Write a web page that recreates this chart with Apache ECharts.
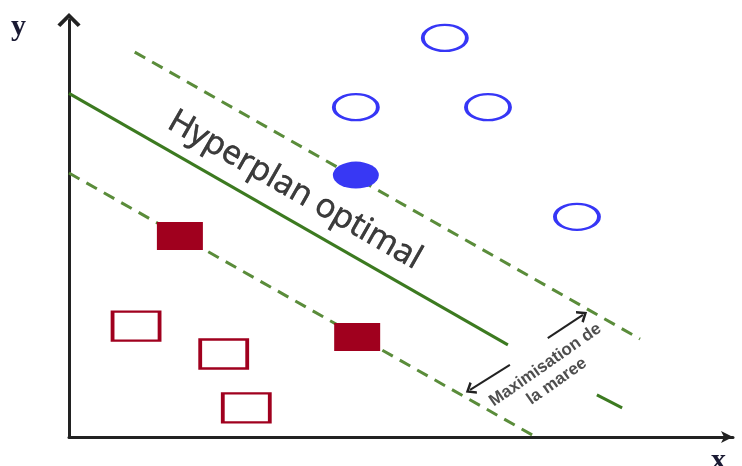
<!DOCTYPE html>
<html>
<head>
<meta charset="utf-8">
<script src="https://cdn.jsdelivr.net/npm/echarts@6/dist/echarts.min.js"></script>
<style>
html,body{margin:0;padding:0;background:#fff;}
#chart{width:742px;height:466px;}
</style>
</head>
<body>
<div id="chart"></div>
<script>
// ---- data (abstract units, x: 0..100, y: 0..100) ----
const blueOpen = [[56.6, 95.7], [43.2, 79.1], [63.1, 79.1], [76.5, 52.8]];
const blueSupport = [[43.2, 62.8]];
const redSupport = [[16.7, 48.2], [43.4, 24.0]];
const redOpen = [[10.1, 26.6], [23.3, 19.9], [26.7, 7.0]];
const hyperplane = [[0, 82.4], [66.1, 22.1]];
const marginUpper = [[9.9, 92.3], [86.0, 23.5]];
const marginLower = [[0, 63.3], [70.3, 0]];
const strayDash = [[79.5, 10.1], [83.3, 7.0]];
const arrowUp = [[72.1, 23.7], [77.4, 29.3]];
const arrowDown = [[66.4, 17.3], [60.4, 11.3]];
const hyperplaneLabel = [[34.0, 59.2]];
const marginLabel = [[72.6, 15.3]];
const hyperplaneText = 'Hyperplan optimal';
const marginText = 'Maximisation de\nla maree';
const axisNameX = 'x';
const axisNameY = 'y';

const chevron = 'path://M0,12 L12,0 L24,12 L21,14.5 L12,5.5 L3,14.5 Z';
const smallChevron = 'path://M0,10 L8,0 L16,10 L13.5,11.5 L8,4.5 L2.5,11.5 Z';
const ellipse = 'path://M0,10 A10,10 0 1,1 20,10 A10,10 0 1,1 0,10 Z';

const chart = echarts.init(document.getElementById('chart'), null, {renderer: 'canvas'});
const noEmph = {disabled: true};

chart.setOption({
  animation: false,
  backgroundColor: '#ffffff',
  grid: {left: 69, right: 9, top: 20, bottom: 29},
  xAxis: {
    type: 'value', min: 0, max: 100,
    axisLine: {show: true, onZero: false, symbol: ['none', 'arrow'], symbolSize: [9, 12],
      lineStyle: {color: '#222222', width: 3}},
    axisTick: {show: false}, axisLabel: {show: false}, splitLine: {show: false}
  },
  yAxis: {
    type: 'value', min: 0, max: 100,
    axisLine: {show: true, onZero: false, symbol: ['none', chevron], symbolSize: [24, 14],
      lineStyle: {color: '#222222', width: 3}},
    axisTick: {show: false}, axisLabel: {show: false}, splitLine: {show: false}
  },
  graphic: [
    {type: 'text', left: 11, top: 12, style: {text: axisNameY, font: 'bold 30px "Liberation Serif"', fill: '#1a1a33'}},
    {type: 'text', left: 711, top: 446, style: {text: axisNameX, font: 'bold 30px "Liberation Serif"', fill: '#1a1a33'}}
  ],
  series: [
    {type: 'line', z: 2, data: marginUpper, showSymbol: false, silent: true, emphasis: noEmph,
      lineStyle: {color: '#5a8c3a', width: 3, type: [12, 8]}},
    {type: 'line', z: 2, data: marginLower, showSymbol: false, silent: true, emphasis: noEmph,
      lineStyle: {color: '#5a8c3a', width: 3, type: [12, 8]}},
    {type: 'line', z: 2, data: strayDash, showSymbol: false, silent: true, emphasis: noEmph,
      lineStyle: {color: '#3c7a20', width: 3}},
    {type: 'line', z: 2, data: hyperplane, showSymbol: false, silent: true, emphasis: noEmph,
      lineStyle: {color: '#3c7a20', width: 3},
      markLine: {
        silent: true, symbol: ['none', smallChevron], symbolSize: [14, 10],
        label: {show: false}, emphasis: noEmph,
        lineStyle: {color: '#222222', width: 2, type: 'solid'},
        data: [
          [{coord: arrowUp[0]}, {coord: arrowUp[1]}],
          [{coord: arrowDown[0]}, {coord: arrowDown[1]}]
        ]
      }},
    {type: 'scatter', z: 5, data: blueOpen, symbol: ellipse, symbolSize: [44, 26], silent: true, emphasis: noEmph,
      itemStyle: {color: 'rgba(255,255,255,0)', borderColor: '#3636f6', borderWidth: 3, opacity: 1}},
    {type: 'scatter', z: 5, data: blueSupport, symbol: ellipse, symbolSize: [46, 27], silent: true, emphasis: noEmph,
      itemStyle: {color: '#3838f4', opacity: 1}},
    {type: 'scatter', z: 5, data: redSupport, symbol: 'rect', symbolSize: [46, 28], silent: true, emphasis: noEmph,
      itemStyle: {color: '#a0001e', opacity: 1}},
    {type: 'scatter', z: 5, data: redOpen, symbol: 'rect', symbolSize: [47, 29], silent: true, emphasis: noEmph,
      itemStyle: {color: 'rgba(255,255,255,0)', borderColor: '#a0001e', borderWidth: 3, opacity: 1}},
    {type: 'scatter', z: 6, data: hyperplaneLabel, symbolSize: 1, silent: true, emphasis: noEmph,
      itemStyle: {color: 'rgba(0,0,0,0)'},
      label: {show: true, position: 'inside', formatter: hyperplaneText, rotate: -29.8,
        fontFamily: 'Open Sans', fontSize: 33, color: '#0d0d0d',
        textBorderColor: '#0d0d0d', textBorderWidth: 0.6}},
    {type: 'scatter', z: 6, data: marginLabel, symbolSize: 1, silent: true, emphasis: noEmph,
      itemStyle: {color: 'rgba(0,0,0,0)'},
      label: {show: true, position: 'inside', formatter: marginText, rotate: 35, align: 'center',
        fontFamily: 'Liberation Sans', fontWeight: 'bold', fontSize: 17, lineHeight: 20, color: '#222222'}}
  ]
});
</script>
</body>
</html>
